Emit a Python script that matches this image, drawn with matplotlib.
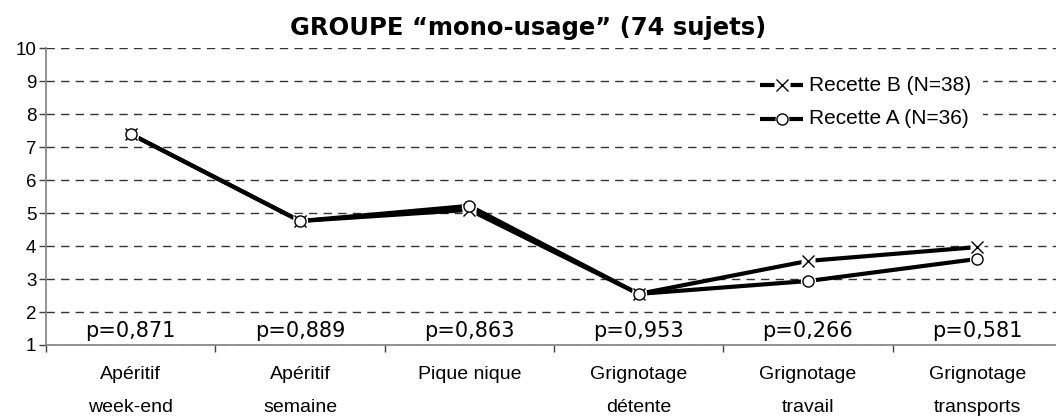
import numpy as np
import matplotlib
matplotlib.use("Agg")
import matplotlib.pyplot as plt
from matplotlib.patches import Rectangle

# data
categories = ["Apéritif\nweek-end", "Apéritif\nsemaine", "Pique nique",
              "Grignotage\ndétente", "Grignotage\ntravail", "Grignotage\ntransports"]
recette_b = [7.40, 4.76, 5.10, 2.55, 3.55, 3.97]
recette_a = [7.40, 4.76, 5.22, 2.55, 2.94, 3.61]
p_values = ["p=0,871", "p=0,889", "p=0,863", "p=0,953", "p=0,266", "p=0,581"]
legend_labels = ["Recette B (N=38)", "Recette A (N=36)"]
title = "GROUPE \u201cmono-usage\u201d (74 sujets)"

fig = plt.figure(figsize=(10.56, 4.2), dpi=100)
ax = fig.add_axes([0.0436, 0.1786, 0.962, 0.7064])

x = np.arange(len(categories)) + 0.5

ax.set_xlim(0, len(categories))
ax.set_ylim(1, 10)
ax.set_yticks(range(1, 11))
ax.set_xticks(range(0, len(categories) + 1))
ax.set_xticklabels([])
ax.yaxis.grid(True, linestyle=(0, (6, 4.5)), color="#333333", linewidth=1)
ax.set_axisbelow(True)

for s in ["top", "right"]:
    ax.spines[s].set_visible(False)
for s in ["left", "bottom"]:
    ax.spines[s].set_color("#808080")
    ax.spines[s].set_linewidth(1.2)
ax.tick_params(axis="both", direction="out", length=5, color="#404040", width=1)
ax.tick_params(axis="y", labelsize=13.5, pad=2)
for lab in ax.get_yticklabels():
    lab.set_family("Liberation Sans")

# lines
ax.plot(x, recette_b, color="black", lw=3, zorder=3)
ax.plot(x, recette_a, color="black", lw=3, zorder=3)
# white halos around markers (lines stop short of markers)
ax.plot(x, recette_b, ls="none", marker="s", ms=10, mfc="white", mec="none", zorder=4)
ax.plot(x, recette_a, ls="none", marker="o", ms=11, mfc="white", mec="none", zorder=4)
ax.plot(x, recette_b, ls="none", marker="x", ms=9, mec="black", mew=1, zorder=5)
ax.plot(x, recette_a, ls="none", marker="o", ms=8, mfc="white", mec="black", mew=1, zorder=6)

# legend, drawn by hand (Excel style "-x-")
ax.add_patch(Rectangle((0.698, 0.71), 0.224, 0.224, transform=ax.transAxes,
                       facecolor="white", edgecolor="none", zorder=2.5))
tr = ax.transAxes
rows = [0.876, 0.762]
styles = [dict(marker="x", ms=9, mec="black", mew=1),
          dict(marker="o", ms=8, mfc="white", mec="black", mew=1)]
halos = [dict(marker="s", ms=11, mfc="white", mec="none"),
         dict(marker="o", ms=10, mfc="white", mec="none")]
for yr, st, hl, lab in zip(rows, styles, halos, legend_labels):
    ax.plot([0.703, 0.745], [yr, yr], color="black", lw=3, transform=tr,
            zorder=7, solid_capstyle="butt")
    ax.plot([0.724], [yr], ls="none", transform=tr, zorder=8, **hl)
    ax.plot([0.724], [yr], ls="none", transform=tr, zorder=9, **st)
    ax.text(0.751, yr, lab, transform=tr, ha="left", va="center",
            fontsize=15, family="Liberation Sans", zorder=9)

# p-values
for xi, p in zip(x, p_values):
    ax.text(xi, 1.24, p, ha="center", va="baseline", fontsize=15,
            family="DejaVu Sans")

# category labels, one text per line
for xi, c in zip(x, categories):
    parts = c.split("\n")
    for k, part in enumerate(parts):
        ax.text(xi, -0.02 - 1.0 * k, part, ha="center", va="baseline",
                fontsize=14, family="Liberation Sans")

fig.text(0.5, 0.917, title, ha="center", va="baseline", fontsize=17.5,
         fontweight="bold", family="DejaVu Sans")

fig.savefig("out.png", dpi=100)
